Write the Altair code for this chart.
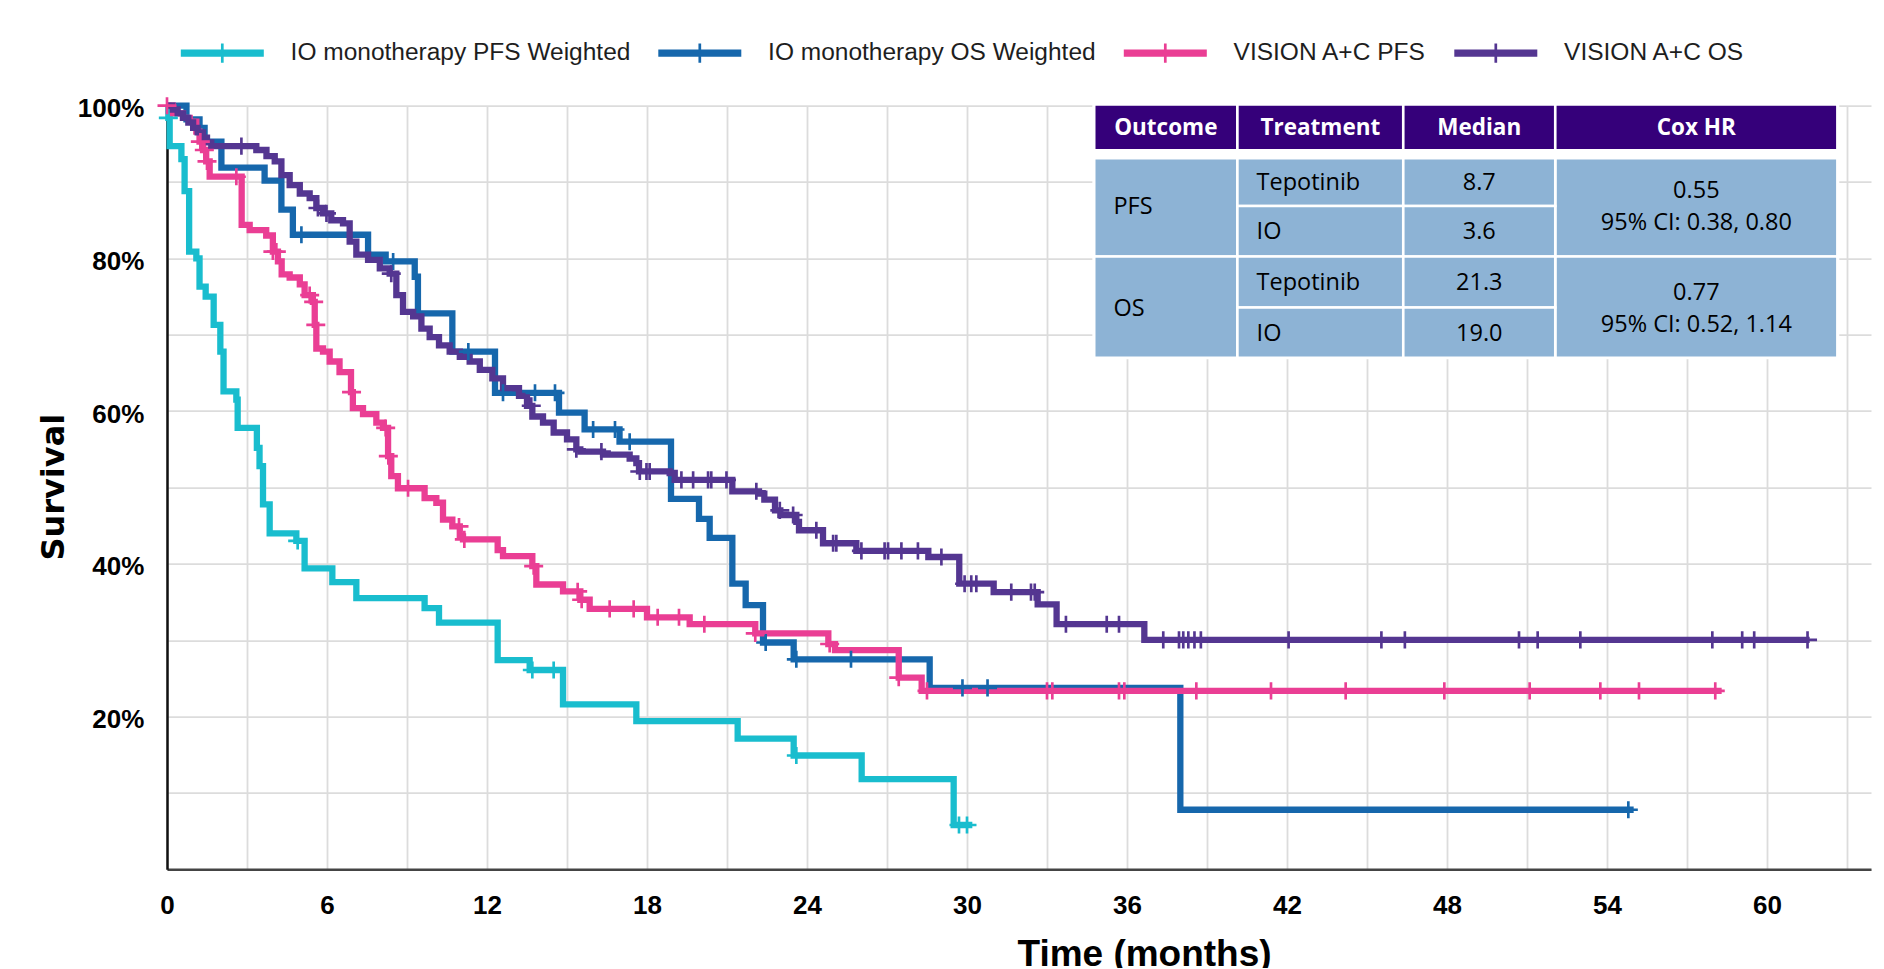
import altair as alt
import pandas as pd

# ---------------- data ----------------
SERIES = ["IO monotherapy PFS Weighted", "IO monotherapy OS Weighted",
          "VISION A+C PFS", "VISION A+C OS"]
COLORS = ["#19BDCE", "#1667AC", "#EA3E94", "#543691"]

# IO monotherapy PFS (weighted)
IO_PFS_T = [0, 0.05, 0.1, 0.54, 0.66, 0.83, 1.1, 1.22, 1.45, 1.75, 2.0, 2.12, 2.6, 2.65,
            3.37, 3.47, 3.6, 3.85, 4.85, 5.16, 6.2, 7.1, 9.66, 10.2, 12.4, 13.6, 14.85,
            17.6, 21.4, 23.5, 26.05, 29.5]
IO_PFS_S = [1.0, 0.984, 0.947, 0.93, 0.888, 0.809, 0.80, 0.763, 0.75, 0.713, 0.678, 0.626,
            0.615, 0.578, 0.552, 0.528, 0.478, 0.44, 0.43, 0.394, 0.376, 0.355, 0.342, 0.323,
            0.274, 0.261, 0.216, 0.194, 0.171, 0.149, 0.118, 0.058]
IO_PFS_END = 30.2
IO_PFS_CENS = [0.05, 4.9, 13.7, 14.5, 23.6, 29.7, 30.0]

# IO monotherapy OS (weighted)
IO_OS_T = [0, 0.73, 1.22, 1.41, 2.04, 3.66, 4.29, 4.72, 7.54, 8.2, 9.29, 9.41, 10.7, 12.3,
           14.7, 15.66, 16.97, 18.9, 19.95, 20.35, 21.2, 21.7, 22.35, 23.5, 28.6, 38.0]
IO_OS_S = [1.0, 0.982, 0.971, 0.953, 0.919, 0.902, 0.864, 0.831, 0.805, 0.796, 0.776, 0.728,
           0.678, 0.624, 0.598, 0.576, 0.560, 0.485, 0.459, 0.434, 0.374, 0.346, 0.297,
           0.275, 0.2376, 0.078]
IO_OS_END = 55.0
IO_OS_CENS = [5.04, 8.48, 11.3, 12.6, 13.8, 14.55, 15.98, 16.8, 17.35, 22.45, 23.6, 25.65,
              29.83, 30.77, 54.8]

# VISION A+C PFS
VIS_PFS_T = [0, 0.22, 0.6, 0.85, 1.1, 1.22, 1.35, 1.47, 1.6, 2.8, 3.1, 3.72, 3.97, 4.16,
             4.3, 4.6, 4.98, 5.16, 5.47, 5.54, 5.6, 5.85, 6.1, 6.47, 6.9, 6.97, 7.35, 7.85,
             8.1, 8.29, 8.41, 8.66, 9.66, 10.1, 10.35, 10.7, 10.98, 11.1, 12.4, 12.6, 13.7,
             13.85, 14.85, 15.5, 15.85, 18.0, 19.6, 22.06, 24.8, 25.05, 27.44, 28.3]
VIS_PFS_S = [1.0, 0.99, 0.984, 0.979, 0.966, 0.953, 0.942, 0.927, 0.907, 0.844, 0.837, 0.83,
             0.809, 0.796, 0.779, 0.775, 0.766, 0.752, 0.743, 0.713, 0.682, 0.678, 0.665,
             0.651, 0.625, 0.604, 0.596, 0.585, 0.578, 0.541, 0.515, 0.499, 0.486, 0.48,
             0.458, 0.449, 0.436, 0.432, 0.418, 0.41, 0.397, 0.373, 0.364, 0.353, 0.341,
             0.33, 0.321, 0.309, 0.295, 0.287, 0.251, 0.2336]
VIS_PFS_END = 58.3
VIS_PFS_CENS = [0.0, 1.25, 1.4, 1.5, 2.6, 3.97, 4.1, 5.35, 5.5, 5.58, 6.92, 8.2, 8.3, 9.04,
                10.95, 11.15, 13.75, 15.4, 15.55, 16.6, 17.5, 18.4, 19.2, 20.15, 22.06, 24.85,
                27.44, 28.5, 33.0, 33.2, 35.7, 35.9, 38.6, 41.4, 44.2, 47.9, 51.1, 53.75,
                55.2, 58.06]

# VISION A+C OS
VIS_OS_T = [0, 0.2, 0.4, 0.6, 0.8, 0.98, 1.15, 1.35, 1.5, 1.66, 3.35, 3.73, 4.04, 4.29, 4.6,
            4.98, 5.35, 5.6, 5.85, 6.16, 6.6, 6.85, 7.1, 7.54, 7.98, 8.35, 8.6, 8.85, 9.23,
            9.54, 9.85, 10.2, 10.6, 10.98, 11.35, 11.73, 12.2, 12.6, 13.2, 13.5, 13.7, 14.1,
            14.5, 15.0, 15.35, 15.5, 16.35, 17.35, 17.6, 17.7, 18.85, 19.04, 21.2, 22.2,
            22.4, 22.8, 23.0, 23.6, 23.7, 24.6, 25.85, 28.55, 29.71, 31.0, 32.65, 33.36,
            36.65]
VIS_OS_S = [1.0, 0.995, 0.99, 0.984, 0.978, 0.971, 0.965, 0.958, 0.952, 0.947, 0.942, 0.934,
            0.927, 0.909, 0.896, 0.885, 0.879, 0.866, 0.859, 0.850, 0.846, 0.822, 0.805,
            0.798, 0.787, 0.780, 0.752, 0.730, 0.724, 0.708, 0.697, 0.686, 0.678, 0.671,
            0.665, 0.654, 0.643, 0.630, 0.62, 0.607, 0.593, 0.585, 0.572, 0.563, 0.55,
            0.547, 0.543, 0.538, 0.532, 0.521, 0.519, 0.51, 0.495, 0.492, 0.484, 0.47,
            0.464, 0.455, 0.444, 0.427, 0.417, 0.409, 0.374, 0.363, 0.347, 0.321, 0.3005]
VIS_OS_END = 61.6
VIS_OS_CENS = [2.79, 5.66, 5.98, 8.41, 13.66, 15.35, 16.29, 17.73, 17.98, 18.1, 19.29, 19.73,
               20.29, 20.41, 20.98, 22.1, 22.98, 23.48, 24.35, 24.98, 25.1, 26.04, 26.91,
               27.04, 27.54, 28.16, 29.04, 29.91, 30.16, 30.35, 31.66, 32.4, 32.54, 33.71,
               35.24, 35.7, 37.36, 37.95, 38.11, 38.3, 38.53, 38.77, 42.06, 45.54, 46.42,
               50.7, 51.4, 53.0, 57.95, 59.07, 59.52, 61.52]

CURVES = [
    (SERIES[0], IO_PFS_T, IO_PFS_S, IO_PFS_END, IO_PFS_CENS),
    (SERIES[1], IO_OS_T, IO_OS_S, IO_OS_END, IO_OS_CENS),
    (SERIES[2], VIS_PFS_T, VIS_PFS_S, VIS_PFS_END, VIS_PFS_CENS),
    (SERIES[3], VIS_OS_T, VIS_OS_S, VIS_OS_END, VIS_OS_CENS),
]

# table content
TABLE_HEADERS = ["Outcome", "Treatment", "Median", "Cox HR"]
TABLE_OUTCOMES = ["PFS", "OS"]
TABLE_TREATMENTS = ["Tepotinib", "IO", "Tepotinib", "IO"]
TABLE_MEDIANS = ["8.7", "3.6", "21.3", "19.0"]
TABLE_HR = ["0.55", "0.77"]
TABLE_CI = ["95% CI: 0.38, 0.80", "95% CI: 0.52, 1.14"]

# table layout (in chart units: months / survival fraction)
TBL_COLS = [34.77, 40.14, 46.36, 52.06, 62.64]
TBL_HEAD = [0.9416, 1.0018]
TBL_ROWS = [0.9311, 0.8687, 0.8025, 0.7357, 0.6700]
TBL_BG = [34.70, 62.71, 0.6680, 1.0040]
TBL_PAD = 0.72
TBL_LINE = 0.021
TBL_NUDGE = 0.0015

# ---------------- frames ----------------
def surv_at(ts, ss, t):
    v = ss[0]
    for ti, si in zip(ts, ss):
        if ti <= t:
            v = si
    return v

line_rows, cens_rows = [], []
for name, ts, ss, end, cens in CURVES:
    k = 0
    for ti, si in zip(ts, ss):
        line_rows.append({"series": name, "t": ti, "s": si, "k": k})
        k += 1
    line_rows.append({"series": name, "t": end, "s": ss[-1], "k": k})
    for c in cens:
        cens_rows.append({"series": name, "t": c, "s": surv_at(ts, ss, c)})
line_df = pd.DataFrame(line_rows)
cens_df = pd.DataFrame(cens_rows)

PURPLE_HEAD = "#35007A"
BODY_BLUE = "#8DB3D5"
cells = []
for i in range(4):
    cells.append({"x": TBL_COLS[i], "x2": TBL_COLS[i + 1], "y": TBL_HEAD[0], "y2": TBL_HEAD[1], "fill": PURPLE_HEAD})
for j in range(2):
    cells.append({"x": TBL_COLS[0], "x2": TBL_COLS[1], "y": TBL_ROWS[2 * j + 2], "y2": TBL_ROWS[2 * j], "fill": BODY_BLUE})
    cells.append({"x": TBL_COLS[3], "x2": TBL_COLS[4], "y": TBL_ROWS[2 * j + 2], "y2": TBL_ROWS[2 * j], "fill": BODY_BLUE})
for r in range(4):
    for c in (1, 2):
        cells.append({"x": TBL_COLS[c], "x2": TBL_COLS[c + 1], "y": TBL_ROWS[r + 1], "y2": TBL_ROWS[r], "fill": BODY_BLUE})
cells_df = pd.DataFrame(cells)
bg_df = pd.DataFrame([{"x": TBL_BG[0], "x2": TBL_BG[1], "y": TBL_BG[2], "y2": TBL_BG[3]}])

head_txt = pd.DataFrame([{"x": (TBL_COLS[i] + TBL_COLS[i + 1]) / 2,
                          "y": (TBL_HEAD[0] + TBL_HEAD[1]) / 2 - TBL_NUDGE,
                          "text": TABLE_HEADERS[i]} for i in range(4)])
left_rows = []
for j in range(2):
    left_rows.append({"x": TBL_COLS[0] + TBL_PAD, "y": TBL_ROWS[2 * j + 1] - TBL_NUDGE, "text": TABLE_OUTCOMES[j]})
for r in range(4):
    left_rows.append({"x": TBL_COLS[1] + TBL_PAD, "y": (TBL_ROWS[r] + TBL_ROWS[r + 1]) / 2 - TBL_NUDGE,
                      "text": TABLE_TREATMENTS[r]})
left_txt = pd.DataFrame(left_rows)
center_rows = []
for r in range(4):
    center_rows.append({"x": (TBL_COLS[2] + TBL_COLS[3]) / 2, "y": (TBL_ROWS[r] + TBL_ROWS[r + 1]) / 2 - TBL_NUDGE,
                        "text": TABLE_MEDIANS[r]})
for j in range(2):
    mid = TBL_ROWS[2 * j + 1] - TBL_NUDGE
    cx = (TBL_COLS[3] + TBL_COLS[4]) / 2
    center_rows.append({"x": cx, "y": mid + TBL_LINE, "text": TABLE_HR[j]})
    center_rows.append({"x": cx, "y": mid - TBL_LINE, "text": TABLE_CI[j]})
center_txt = pd.DataFrame(center_rows)

# ---------------- chart ----------------
XMAX = 63.9
xscale = alt.Scale(domain=[0, XMAX], nice=False, zero=False)
yscale = alt.Scale(domain=[0, 1], nice=False)
cscale = alt.Scale(domain=SERIES, range=COLORS)

x_axis = alt.Axis(values=list(range(0, 64, 3)),
                  labelExpr="datum.value % 6 == 0 ? datum.label : ''",
                  grid=True, ticks=False, tickSize=0,
                  labelFont="Liberation Sans", labelFontSize=26, labelFontWeight="bold",
                  labelColor="#000000", labelPadding=22.8, labelFlush=False, labelOverlap=False,
                  domainColor="#444444", domainWidth=2.5,
                  gridColor="#dcdcdc", gridWidth=1.8,
                  titleFont="Liberation Sans", titleFontSize=37, titleFontWeight="bold",
                  titleColor="#000000", titleX=977, titleY=96.7,
                  titleBaseline="alphabetic", titleAlign="center")
y_axis = alt.Axis(values=[i / 10 for i in range(11)], format=".0%",
                  labelExpr="datum.value > 0 && round(datum.value * 10) % 2 == 0 ? datum.label : ''",
                  grid=True, ticks=False, tickSize=0,
                  labelFont="Liberation Sans", labelFontSize=26, labelFontWeight="bold",
                  labelColor="#000000", labelPadding=23.2, labelOffset=3, labelOverlap=False,
                  domainColor="#111111", domainWidth=2.5,
                  gridColor="#dcdcdc", gridWidth=1.8,
                  titleFont="DejaVu Sans", titleFontSize=32, titleFontWeight="bold",
                  titleColor="#000000", titleAngle=270, titleX=-104, titleY=381,
                  titleBaseline="alphabetic", titleAlign="center")

CENSOR_PATH = "M-1,-0.14H1V0.14H-1Z M-0.14,-0.9H0.14V0.9H-0.14Z"
LEGEND_PATH = "M-1,-0.088H1V0.088H-1Z M-0.0325,-0.2325H0.0325V0.2325H-0.0325Z"

lines = alt.Chart(line_df).mark_line(interpolate="step-after", strokeWidth=6.3).encode(
    x=alt.X("t:Q", scale=xscale, axis=x_axis, title="Time (months)"),
    y=alt.Y("s:Q", scale=yscale, axis=y_axis, title="Survival"),
    color=alt.Color("series:N", scale=cscale, legend=None),
    order=alt.Order("k:Q"),
)

censors = alt.Chart(cens_df).mark_point(shape=CENSOR_PATH, filled=True, size=361,
                                        opacity=1, strokeWidth=0).encode(
    x=alt.X("t:Q", scale=xscale),
    y=alt.Y("s:Q", scale=yscale),
    color=alt.Color("series:N", scale=cscale,
                    legend=alt.Legend(title=None, orient="none", legendX=13.8, legendY=-94,
                                      direction="horizontal", symbolType=LEGEND_PATH,
                                      symbolSize=6889, symbolStrokeWidth=0, symbolOpacity=1,
                                      labelFont="Liberation Sans", labelFontSize=24.5,
                                      labelColor="#1e1e1e", labelOffset=26.8,
                                      columnPadding=27.5, labelLimit=0, padding=0)),
)

tbl_bg = alt.Chart(bg_df).mark_rect(color="white").encode(
    x=alt.X("x:Q", scale=xscale), x2="x2:Q",
    y=alt.Y("y:Q", scale=yscale), y2="y2:Q")

tbl_cells = alt.Chart(cells_df).mark_rect(stroke="white", strokeWidth=2.6).encode(
    x=alt.X("x:Q", scale=xscale), x2="x2:Q",
    y=alt.Y("y:Q", scale=yscale), y2="y2:Q",
    fill=alt.Fill("fill:N", scale=None, legend=None))

tbl_head = alt.Chart(head_txt).mark_text(align="center", fontWeight="bold", color="white",
                                         font="Open Sans", fontSize=22.5, baseline="middle").encode(
    x=alt.X("x:Q", scale=xscale), y=alt.Y("y:Q", scale=yscale), text="text:N")
tbl_left = alt.Chart(left_txt).mark_text(align="left", color="black",
                                         font="Open Sans", fontSize=23.5, baseline="middle").encode(
    x=alt.X("x:Q", scale=xscale), y=alt.Y("y:Q", scale=yscale), text="text:N")
tbl_center = alt.Chart(center_txt).mark_text(align="center", color="black",
                                             font="Open Sans", fontSize=23.5, baseline="middle").encode(
    x=alt.X("x:Q", scale=xscale), y=alt.Y("y:Q", scale=yscale), text="text:N")

chart = alt.layer(lines, censors, tbl_bg, tbl_cells, tbl_head, tbl_left, tbl_center).resolve_legend(
    color="independent"
).properties(
    width=1704, height=763.6,
    autosize=alt.AutoSizeParams(type="none"),
    padding={"left": 159, "top": 97.7, "right": 1, "bottom": 99},
    background="white",
).configure_view(stroke="transparent")

chart.save("out.html", embed_options={"renderer": "svg", "actions": False})
